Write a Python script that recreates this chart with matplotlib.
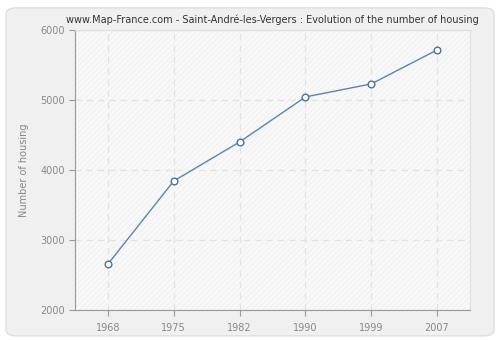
import matplotlib.pyplot as plt
from matplotlib.patches import FancyBboxPatch, Rectangle

years = ['1968', '1975', '1982', '1990', '1999', '2007']
housing = [2657, 3843, 4400, 5043, 5229, 5714]

plt.rcParams['hatch.color'] = '#eeeeee'
plt.rcParams['hatch.linewidth'] = 0.6

fig = plt.figure(figsize=(5, 3.4), dpi=100)
fig.patch.set_facecolor('#ffffff')
# rounded outer panel
bg = FancyBboxPatch((0.012, 0.012), 0.976, 0.965, boxstyle='round,pad=0,rounding_size=0.02',
                    transform=fig.transFigure, facecolor='#f0f0f0', edgecolor='#dedede',
                    linewidth=1, zorder=-10)
fig.patches.append(bg)

ax = fig.add_axes([0.15, 0.088, 0.79, 0.824])
ax.set_facecolor('#f8f8f8')
ax.add_patch(Rectangle((0, 0), 1, 1, transform=ax.transAxes, facecolor='none',
                       hatch='//////', edgecolor='#efefef', linewidth=0, zorder=0))

x = range(len(years))
ax.plot(x, housing, color='#5b84b1', linewidth=1, marker='o', markersize=4.8,
        markerfacecolor='white', markeredgecolor='#4a72a0', markeredgewidth=1, zorder=3)

ax.set_xlim(-0.5, len(years) - 0.5)
ax.set_ylim(2000, 6000)
ax.set_xticks(list(x))
ax.set_xticklabels(years)
ax.set_yticks([2000, 3000, 4000, 5000, 6000])
ax.grid(True, color='#e2e2e2', linestyle=(0, (5, 4)), linewidth=0.9)
ax.set_axisbelow(True)

for s in ['top', 'right']:
    ax.spines[s].set_color('#e0e0e0')
for s in ['left', 'bottom']:
    ax.spines[s].set_color('#999999')
ax.tick_params(colors='#999999', labelsize=7, length=4, labelcolor='#888888')
ax.tick_params(axis='x', pad=5)

ax.set_ylabel('Number of housing', fontsize=7, color='#888888', labelpad=8)
ax.set_title('www.Map-France.com - Saint-André-les-Vergers : Evolution of the number of housing',
             fontsize=7.0, color='#333333', pad=5)

fig.savefig('out.png', dpi=100, facecolor=fig.get_facecolor())
